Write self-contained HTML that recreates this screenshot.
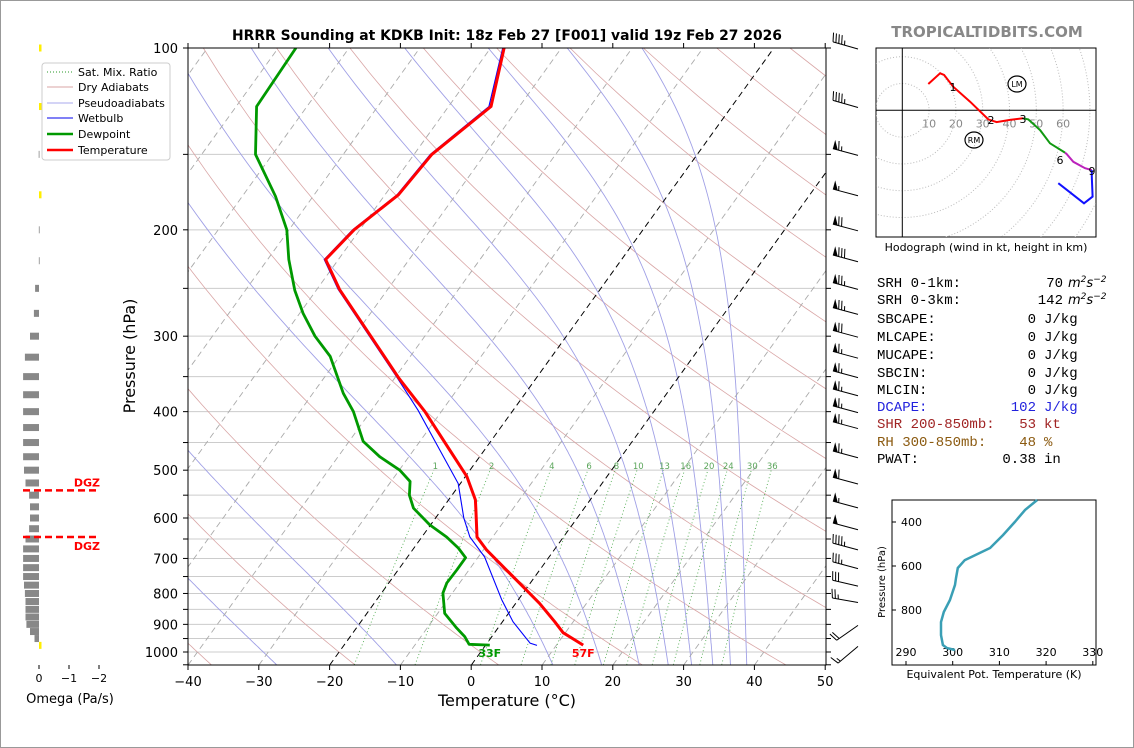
<!DOCTYPE html>
<html><head><meta charset="utf-8">
<style>
html,body{margin:0;padding:0;background:#fff;}
svg{display:block;font-family:"DejaVu Sans","Liberation Sans",sans-serif;}
.mono{font-family:"Liberation Mono","DejaVu Sans Mono",monospace;font-size:14px;}
</style></head>
<body>
<svg id="root" width="1134" height="748" viewBox="0 0 1134 748" xmlns="http://www.w3.org/2000/svg">
<rect x="0.5" y="0.5" width="1133" height="747" fill="#fff" stroke="#999"/>
<defs><clipPath id="cp"><rect x="188" y="48" width="638" height="617"/></clipPath>
<clipPath id="hcp"><rect x="876" y="48" width="220" height="189"/></clipPath></defs>
<text x="507" y="40" text-anchor="middle" font-size="13.9" font-weight="bold">HRRR Sounding at KDKB Init: 18z Feb 27 [F001] valid 19z Feb 27 2026</text>
<text x="987" y="37" text-anchor="middle" font-size="15" font-weight="bold" fill="#888">TROPICALTIDBITS.COM</text>
<g id="bg" clip-path="url(#cp)"></g>
<g id="series" clip-path="url(#cp)"></g>
<g id="axes"></g>
<g id="omega"></g>
<g id="barbs"></g>
<g id="hodo"></g>
<g id="thetae"></g>
<g id="legend">
<rect x="42" y="63" width="128" height="97" rx="3" fill="#fff" stroke="#ccc"/>
<line x1="47" y1="72" x2="73" y2="72" stroke="#2a9a2a" stroke-dasharray="1,2"/>
<text x="78" y="76" font-size="11">Sat. Mix. Ratio</text>
<line x1="47" y1="87" x2="73" y2="87" stroke="#d9a6a6"/>
<text x="78" y="91" font-size="11">Dry Adiabats</text>
<line x1="47" y1="103" x2="73" y2="103" stroke="#aaaaee"/>
<text x="78" y="107" font-size="11">Pseudoadiabats</text>
<line x1="47" y1="118" x2="73" y2="118" stroke="#0000ee"/>
<text x="78" y="122" font-size="11">Wetbulb</text>
<line x1="47" y1="134" x2="73" y2="134" stroke="#009900" stroke-width="2.5"/>
<text x="78" y="138" font-size="11">Dewpoint</text>
<line x1="47" y1="150" x2="73" y2="150" stroke="#ff0000" stroke-width="2.5"/>
<text x="78" y="154" font-size="11">Temperature</text>
</g>
<g id="stats" class="mono"></g>
</svg>
<script>
// ---------- data ----------
const tempP=[100,125,150,175,200,224,251,352,400,463,512,560,582,645,678,713,790,831,891,929,974];
const tempT=[-58.1,-54.0,-57.5,-58.1,-60.8,-61.8,-56.8,-39.4,-32.3,-24.9,-19.8,-16.2,-15.1,-12.2,-9.5,-6.3,0.2,3.4,7.4,9.7,13.8];
const dewP=[100,125,150,176,200,224,252,275,300,324,373,400,448,475,500,522,550,578,616,645,673,698,731,768,799,863,913,943,971,974];
const dewT=[-87.5,-87.1,-82.4,-75.3,-70.3,-67.0,-63.0,-59.5,-55.5,-51.3,-45.7,-42.4,-38.0,-34.1,-29.9,-27.3,-26.0,-24.1,-20.1,-16.5,-13.7,-11.7,-11.7,-11.8,-11.3,-9.0,-5.8,-3.8,-2.4,0.6];
const wbP=[100,125,150,175,200,224,251,352,398,463,526,600,645,696,820,891,967,975];
const wbT=[-58.3,-54.3,-57.7,-58.3,-61.0,-62.0,-57.0,-39.6,-33.4,-26.3,-20.3,-16.0,-13.2,-9.1,-2.3,1.5,6.1,7.3];
const xTicks=[-40,-30,-20,-10,0,10,20,30,40,50];
const yTickLabels=[100,200,300,400,500,600,700,800,900,1000];
const mixVals=[1,2,4,6,8,10,13,16,20,24,30,36];
const omegaP=[100,125,150,175,200,225,250,275,300,325,350,375,400,425,450,475,500,525,550,575,600,625,650,675,700,725,750,775,800,825,850,875,900,925,950,975];
const omegaV=[-0.03,-0.03,0.01,-0.02,0.005,0.005,0.13,0.17,0.3,0.47,0.53,0.53,0.53,0.53,0.53,0.53,0.5,0.45,0.33,0.3,0.3,0.33,0.45,0.53,0.53,0.53,0.53,0.5,0.47,0.45,0.45,0.45,0.42,0.3,0.15,-0.05];
const dgzP=[540,645];
const barbP=[100,125,150,175,200,225,250,275,300,325,350,375,400,425,475,525,575,625,675,725,775,825,900,975];
const barbSpd=[45,45,65,55,70,80,75,75,70,65,65,65,65,65,65,60,55,50,45,35,30,25,20,15];
const barbDir=[286,286,285,285,285,285,285,285,285,285,285,285,285,285,285,285,285,285,285,285,283,280,235,230];
const hodoU03=[9.7,14.1,15.6,19.0,25.3,32.1,35.2,40.2,45.1];
const hodoV03=[9.8,13.8,13.2,8.8,3.2,-3.4,-4.4,-3.6,-3.0];
const hodoU36=[45.1,47.0,51.4,55.1,60.7];
const hodoV36=[-3.0,-3.4,-7.4,-12.3,-15.8];
const hodoU69=[60.7,61.3,63.8,68.2,70.7];
const hodoV69=[-15.8,-16.3,-19.2,-21.6,-22.3];
const hodoU9p=[70.7,70.7,71.0,67.8,58.2];
const hodoV9p=[-22.3,-24.8,-32.2,-34.7,-27.2];
const thetaP=[300,345,400,459,518,573,609,655,686,755,809,855,914,959,973,982];
const thetaE=[318.1,315.5,313.3,310.8,308.0,302.6,301.1,300.7,300.5,299.4,298.1,297.5,297.5,297.9,298.8,300.5];
const thetaXTicks=[290,300,310,320,330];
const thetaYTicks=[400,600,800];

// ---------- helpers ----------
const NS="http://www.w3.org/2000/svg";
function mk(parent,tag,attrs,text){const e=document.createElementNS(NS,tag);for(const k in attrs)e.setAttribute(k,attrs[k]);if(text!==undefined)e.textContent=text;parent.appendChild(e);return e;}
function Y(p){return 48+604*Math.log10(p/100);}
function X(T,p){return 188+(T+40)*7.08+(665-Y(p))*0.72;}
function pts(arrP,arrT){return arrP.map((p,i)=>X(arrT[i],p).toFixed(1)+","+Y(p).toFixed(1)).join(" ");}
const bg=document.getElementById('bg');
for(let p=100;p<=1000;p+=50){
  const l=mk(bg,'line',{x1:188,x2:826,y1:Y(p),y2:Y(p),stroke:'#cccccc','stroke-width':1});
  
  
}
for(let th=-60;th<=240;th+=20){
  const a=[];for(let p=1050;p>=100;p-=10){a.push(X((th+273.15)*Math.pow(p/1000,0.2857)-273.15,p).toFixed(1)+","+Y(p).toFixed(1));}
  const l=mk(bg,'polyline',{points:a.join(" "),fill:'none',stroke:'#d9a6a6','stroke-width':0.8});
  
  
}
const moistStart=[-27.5,-10.6,11.5,18.4,23.7,27.8,31.1,34.1,36.6,38.9];
function es(T){return 6.112*Math.exp(17.67*T/(T+243.5));}
moistStart.forEach(t0=>{
  let T=t0;const a=[];
  for(let p=1050;p>=100;p-=5){
    a.push(X(T,p).toFixed(1)+","+Y(p).toFixed(1));
    const Tk=T+273.15,e=es(T),rs=0.622*e/(p-e);
    const dTdp=(287*Tk+2.5e6*rs)/(1005+2.5e6*2.5e6*rs*0.622/(287*Tk*Tk))/p;
    T-=dTdp*5;
  }
  const l=mk(bg,'polyline',{points:a.join(" "),fill:'none',stroke:'#a0a0e6','stroke-width':0.9});
  
  
});
for(let t=-150;t<=50;t+=10){
  const blk=(t===0||t===-20);
  const l=mk(bg,'line',{x1:X(t,1050),y1:665,x2:X(t,100),y2:48,stroke:blk?'#000':'#aaaaaa','stroke-width':blk?1:0.9,'stroke-dasharray':'6,4'});
  
  
}
mixVals.forEach(w=>{
  const a=[];
  for(let p=1050;p>=500;p-=10){const e=w*p/(622+w),L=Math.log(e/6.112),Td=243.5*L/(17.67-L);a.push(X(Td,p).toFixed(1)+","+Y(p).toFixed(1));}
  const l=mk(bg,'polyline',{points:a.join(" "),fill:'none',stroke:'#2a9a2a','stroke-width':0.9,'stroke-dasharray':'1,2.5',opacity:0.8});
  
  
  const p=493,e=w*p/(622+w),L=Math.log(e/6.112),Td=243.5*L/(17.67-L);
  const tx=mk(bg,'text',{x:X(Td,p),y:469,'text-anchor':'middle','font-size':8.5,fill:'#5aa55a'},String(w));
  
  
});
const ser=document.getElementById('series');
let s=mk(ser,'polyline',{points:pts(wbP,wbT),fill:'none',stroke:'#0000ff','stroke-width':1.1});


s=mk(ser,'polyline',{points:pts(dewP,dewT),fill:'none',stroke:'#009900','stroke-width':2.8,'stroke-linejoin':'round'});


s=mk(ser,'polyline',{points:pts(tempP,tempT),fill:'none',stroke:'#ff0000','stroke-width':3,'stroke-linejoin':'round'});


const sfcD=dewT[dewT.length-1],sfcT=tempT[tempT.length-1],sfcP=tempP[tempP.length-1];
s=mk(ser,'text',{x:X(sfcD,sfcP),y:Y(sfcP)+12,'text-anchor':'middle','font-size':11,'font-weight':'bold',fill:'#009900'},Math.round(sfcD*9/5+32)+"F");


s=mk(ser,'text',{x:X(sfcT,sfcP),y:Y(sfcP)+12,'text-anchor':'middle','font-size':11,'font-weight':'bold',fill:'#ff0000'},Math.round(sfcT*9/5+32)+"F");


const ax=document.getElementById('axes');
s=mk(ax,'rect',{x:188,y:48,width:638,height:617,fill:'none',stroke:'#000','stroke-width':1});


xTicks.forEach(t=>{
  const x=188+(t+40)*7.08;
  mk(ax,'line',{x1:x,x2:x,y1:665,y2:670,stroke:'#000'});
  mk(ax,'line',{x1:x,x2:x,y1:48,y2:43,stroke:'#000'});
  const tx=mk(ax,'text',{x:x,y:686,'text-anchor':'middle','font-size':13},String(t).replace('-','\u2212'));
  
  
});
for(let p=100;p<=1050;p+=50){mk(ax,'line',{x1:183,x2:188,y1:Y(p),y2:Y(p),stroke:'#000'});mk(ax,'line',{x1:826,x2:831,y1:Y(p),y2:Y(p),stroke:'#000'});}
yTickLabels.forEach(p=>{
  const tx=mk(ax,'text',{x:178,y:Y(p)+5,'text-anchor':'end','font-size':13},String(p));
  
  
});
s=mk(ax,'text',{x:507,y:706,'text-anchor':'middle','font-size':16},'Temperature (°C)');


s=mk(ax,'text',{x:0,y:0,'text-anchor':'middle','font-size':16,transform:'translate(135,356) rotate(-90)'},'Pressure (hPa)');


const om=document.getElementById('omega');
omegaP.forEach((p,i)=>{
  const v=omegaV[i],x0=39,x1=39-v*30;
  const w=v<0?Math.max(Math.abs(x1-x0),2.5):Math.max(Math.abs(x1-x0),0.8);
  const r=mk(om,'rect',{x:v<0?x0:x1,y:Y(p)-3.5,width:w,height:7,fill:v<0?'#ffee00':'#888888'});
  
  
});
dgzP.forEach((p,i)=>{
  const l=mk(om,'line',{x1:23,x2:99,y1:Y(p),y2:Y(p),stroke:'#ff0000','stroke-width':2.5,'stroke-dasharray':'7,4'});
  
  
  const t=mk(om,'text',{x:100,y:i===0?Y(p)-4:Y(p)+13,'text-anchor':'end','font-size':11,'font-weight':'bold',fill:'#ff0000'},'DGZ');
  
  
});
[0,-1,-2].forEach(v=>{
  const x=39-v*30;mk(om,'line',{x1:x,x2:x,y1:665,y2:669,stroke:'#000'});
  const t=mk(om,'text',{x:x,y:682,'text-anchor':'middle','font-size':11},String(v).replace('-','\u2212'));
  
  
});
s=mk(om,'text',{x:70,y:703,'text-anchor':'middle','font-size':13},'Omega (Pa/s)');


const bb=document.getElementById('barbs');
barbP.forEach((p,i)=>{
  const sx=858,sy=Y(p)+1,th=barbDir[i]*Math.PI/180,L=26;
  const dx=Math.sin(th),dy=-Math.cos(th),px=-dy,py=dx;
  const ex=sx+dx*L,ey=sy+dy*L;
  const g=mk(bb,'g',{});
  
  
  mk(g,'line',{x1:sx,y1:sy,x2:ex,y2:ey,stroke:'#000','stroke-width':1});
  let spd=Math.round(barbSpd[i]/5)*5,pos=0;
  while(spd>=50){const ax1=ex-dx*pos,ay1=ey-dy*pos,ax2=ex-dx*(pos+5),ay2=ey-dy*(pos+5);
    mk(g,'polygon',{points:`${ax1},${ay1} ${ax1+px*9},${ay1+py*9} ${ax2},${ay2}`,fill:'#000'});pos+=6;spd-=50;}
  while(spd>=10){const bx=ex-dx*pos,by=ey-dy*pos;mk(g,'line',{x1:bx,y1:by,x2:bx+px*9+dx*2,y2:by+py*9+dy*2,stroke:'#000','stroke-width':1});pos+=3;spd-=10;}
  if(spd>=5){if(pos===0)pos=3;const bx=ex-dx*pos,by=ey-dy*pos;mk(g,'line',{x1:bx,y1:by,x2:bx+px*4.5+dx,y2:by+py*4.5+dy,stroke:'#000','stroke-width':1});}
});
const hd=document.getElementById('hodo');
const ox=902.3,oy=110.3,ks=2.68;
s=mk(hd,'rect',{x:876,y:48,width:220,height:189,fill:'#fff',stroke:'#000'});


const hc=mk(hd,'g',{'clip-path':'url(#hcp)'});
for(let r=10;r<=100;r+=10){const c=mk(hc,'circle',{cx:ox,cy:oy,r:r*ks,fill:'none',stroke:'#bbb','stroke-dasharray':'1,2','stroke-width':1});}
mk(hc,'line',{x1:876,x2:1096,y1:oy,y2:oy,stroke:'#000'});
mk(hc,'line',{x1:ox,x2:ox,y1:48,y2:237,stroke:'#000'});
[10,20,30,40,50,60].forEach(r=>{const t=mk(hc,'text',{x:ox+r*ks,y:oy+17,'text-anchor':'middle','font-size':11,fill:'#888'},String(r));});
function hseg(U,V,col,name){const p=U.map((u,i)=>(ox+u*ks).toFixed(1)+","+(oy-V[i]*ks).toFixed(1)).join(" ");const l=mk(hc,'polyline',{points:p,fill:'none',stroke:col,'stroke-width':2});}
hseg(hodoU03,hodoV03,'#ff0000','hodograph-0-3km');
hseg(hodoU36,hodoV36,'#119911','hodograph-3-6km');
hseg(hodoU69,hodoV69,'#bb22bb','hodograph-6-9km');
hseg(hodoU9p,hodoV9p,'#1111ff','hodograph-9km-plus');
[["1",953,91],["2",991,124],["3",1023,123],["6",1060,164],["9",1092,175]].forEach(a=>{const t=mk(hc,'text',{x:a[1],y:a[2],'text-anchor':'middle','font-size':11},a[0]);});
[["LM",1017,84],["RM",974,140]].forEach(a=>{const g=mk(hc,'g',{});mk(g,'ellipse',{cx:a[1],cy:a[2],rx:9,ry:8,fill:'none',stroke:'#000','stroke-width':1.2});mk(g,'text',{x:a[1],y:a[2]+3,'text-anchor':'middle','font-size':8},a[0]);});
s=mk(hd,'text',{x:986,y:251,'text-anchor':'middle','font-size':11},'Hodograph (wind in kt, height in km)');


const st=document.getElementById('stats');
const rows=[["SRH 0-1km:","70","",287,'#000',1063],["SRH 0-3km:","142","",304,'#000',1063],["SBCAPE:","0","J/kg",323,'#000',1036],["MLCAPE:","0","J/kg",341,'#000',1036],["MUCAPE:","0","J/kg",359,'#000',1036],["SBCIN:","0","J/kg",377,'#000',1036],["MLCIN:","0","J/kg",394,'#000',1036],["DCAPE:","102","J/kg",411,'#2222dd',1036],["SHR 200-850mb:","53","kt",428,'#a02424',1036],["RH 300-850mb:","48","%",446,'#8b5a10',1036],["PWAT:","0.38","in",463,'#000',1036]];
rows.forEach(r=>{
  const t=mk(st,'text',{x:877,y:r[3],fill:r[4]},r[0]);
  const v=mk(st,'text',{x:r[5],y:r[3],fill:r[4],'text-anchor':'end'},r[1]);
  if(r[2]){const u=mk(st,'text',{x:r[5]+8,y:r[3],fill:r[4]},r[2]);}
  else{
    const u=mk(st,'text',{x:r[5]+5,y:r[3],fill:r[4],'font-style':'italic','font-family':'"DejaVu Sans",sans-serif','font-size':13});
    
    
    mk(u,'tspan',{},'m');mk(u,'tspan',{dy:-5,'font-size':9},'2');mk(u,'tspan',{dy:5},'s');mk(u,'tspan',{dy:-5,'font-size':9},'−2');
  }
});
const te=document.getElementById('thetae');
const TX=v=>906+(v-290)*4.67, TY=p=>522+(p-400)*0.22;
s=mk(te,'rect',{x:892,y:500,width:204,height:165,fill:'#fff',stroke:'#000'});


thetaXTicks.forEach(v=>{mk(te,'line',{x1:TX(v),x2:TX(v),y1:665,y2:661,stroke:'#000'});const t=mk(te,'text',{x:TX(v),y:656,'text-anchor':'middle','font-size':11},String(v));});
thetaYTicks.forEach(p=>{mk(te,'line',{x1:892,x2:896,y1:TY(p),y2:TY(p),stroke:'#000'});const t=mk(te,'text',{x:922,y:TY(p)+4,'text-anchor':'end','font-size':11},String(p));});
s=mk(te,'polyline',{points:thetaP.map((p,i)=>TX(thetaE[i]).toFixed(1)+","+TY(p).toFixed(1)).join(" "),fill:'none',stroke:'#3a9fb5','stroke-width':2.5});


s=mk(te,'text',{x:994,y:678,'text-anchor':'middle','font-size':11},'Equivalent Pot. Temperature (K)');


s=mk(te,'text',{x:0,y:0,'text-anchor':'middle','font-size':10,transform:'translate(885,582) rotate(-90)'},'Pressure (hPa)');


</script>
</body></html>
